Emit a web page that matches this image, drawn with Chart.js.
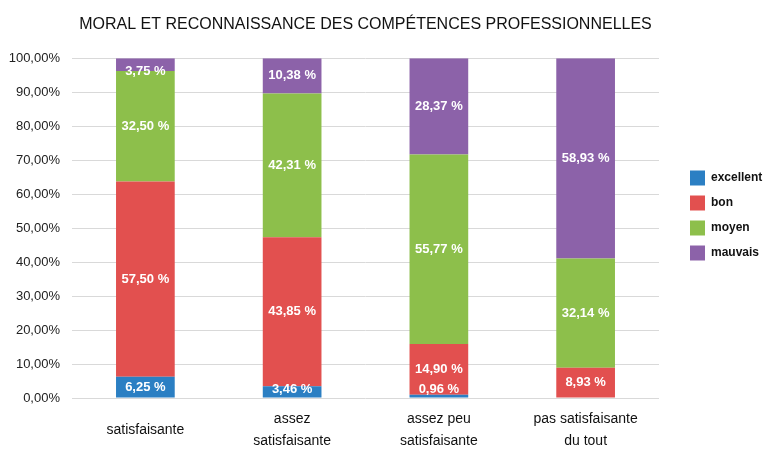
<!DOCTYPE html>
<html>
<head>
<meta charset="utf-8">
<script src="https://cdn.jsdelivr.net/npm/chart.js@4/dist/chart.umd.min.js"></script>
<style>
  html, body { margin: 0; padding: 0; background: #fff; }
  #wrap { width: 768px; height: 451px; }
</style>
</head>
<body>
<div id="wrap"><canvas id="graphique"></canvas></div>
<script>
const categories = ["satisfaisante", ["assez", "satisfaisante"], ["assez peu", "satisfaisante"], ["pas satisfaisante", "du tout"]];
const excellent = [6.25, 3.46, 0.96, 0];
const bon = [57.50, 43.85, 14.90, 8.93];
const moyen = [32.50, 42.31, 55.77, 32.14];
const mauvais = [3.75, 10.38, 28.37, 58.93];
const yTicks = [0, 10, 20, 30, 40, 50, 60, 70, 80, 90, 100];

const police = "'Liberation Sans', Arial, sans-serif";
const virgule = (v) => v.toFixed(2).replace(".", ",");

// etiquettes blanches dans les segments
const etiquettes = {
  id: "etiquettes",
  afterDatasetsDraw(chart) {
    const { ctx } = chart;
    const y = chart.scales.y;
    const haut = y.getPixelForValue(100);
    const bas = y.getPixelForValue(0);
    ctx.save();
    ctx.fillStyle = "#fff";
    ctx.font = "bold 13px " + police;
    ctx.textAlign = "center";
    ctx.textBaseline = "middle";
    chart.data.datasets.forEach((ds, i) => {
      const meta = chart.getDatasetMeta(i);
      meta.data.forEach((bar, j) => {
        const v = ds.data[j];
        if (!v) return;
        let cy = (bar.y + bar.base) / 2;
        cy = Math.min(cy, bas - 9);
        cy = Math.max(cy, haut + 13);
        ctx.fillText(virgule(v) + " %", bar.x, cy);
      });
    });
    ctx.restore();
  },
};

// legende un peu plus a droite et plus haut que par defaut
const legendeDroite = {
  id: "legendeDroite",
  beforeLayout(chart) {
    const lg = chart.legend;
    if (lg && !lg._fixe) {
      const fit = lg.fit;
      lg.fit = function () { fit.call(this); this.width = 109; };
      lg._fixe = true;
    }
  },
  afterLayout(chart) {
    const lg = chart.legend;
    lg.left += 21; lg.right += 21;
    lg.top -= 12; lg.bottom -= 12;
  },
};

new Chart(document.getElementById("graphique"), {
  type: "bar",
  data: {
    labels: categories,
    datasets: [
      { label: "excellent", data: excellent, backgroundColor: "#2b7fc3" },
      { label: "bon", data: bon, backgroundColor: "#e2504f" },
      { label: "moyen", data: moyen, backgroundColor: "#8dbf4b" },
      { label: "mauvais", data: mauvais, backgroundColor: "#8c62a9" },
    ],
  },
  options: {
    responsive: true,
    maintainAspectRatio: false,
    animation: false,
    layout: { padding: { left: 8, right: 0, top: 4, bottom: 0 } },
    datasets: { bar: { categoryPercentage: 1, barPercentage: 0.4 } },
    plugins: {
      title: {
        display: true,
        fullSize: false,
        text: "MORAL ET RECONNAISSANCE DES COMPÉTENCES PROFESSIONNELLES",
        color: "#111",
        font: { family: police, size: 16, weight: "normal" },
        padding: { top: 11, bottom: 24 },
      },
      legend: {
        position: "right",
        labels: {
          boxWidth: 15,
          boxHeight: 15,
          padding: 10,
          color: "#111",
          font: { family: police, size: 12, weight: "bold" },
        },
      },
      tooltip: { enabled: false },
    },
    scales: {
      x: {
        stacked: true,
        afterFit: (s) => { s.height = 53; },
        grid: { display: false },
        border: { display: false },
        ticks: {
          color: "#111",
          font: { family: police, size: 14, lineHeight: 1.6 },
          padding: 13,
          crossAlign: "center",
        },
      },
      y: {
        stacked: true,
        min: 0,
        max: 100,
        afterFit: (s) => { s.width = 64; },
        afterBuildTicks: (axis) => { axis.ticks = yTicks.map((v) => ({ value: v })); },
        grid: { color: "#d9d9d9", drawTicks: false },
        border: { display: false },
        ticks: {
          color: "#222",
          font: { family: police, size: 13 },
          padding: 12,
          callback: (v) => virgule(v) + "%",
        },
      },
    },
  },
  plugins: [etiquettes, legendeDroite],
});
</script>
</body>
</html>
